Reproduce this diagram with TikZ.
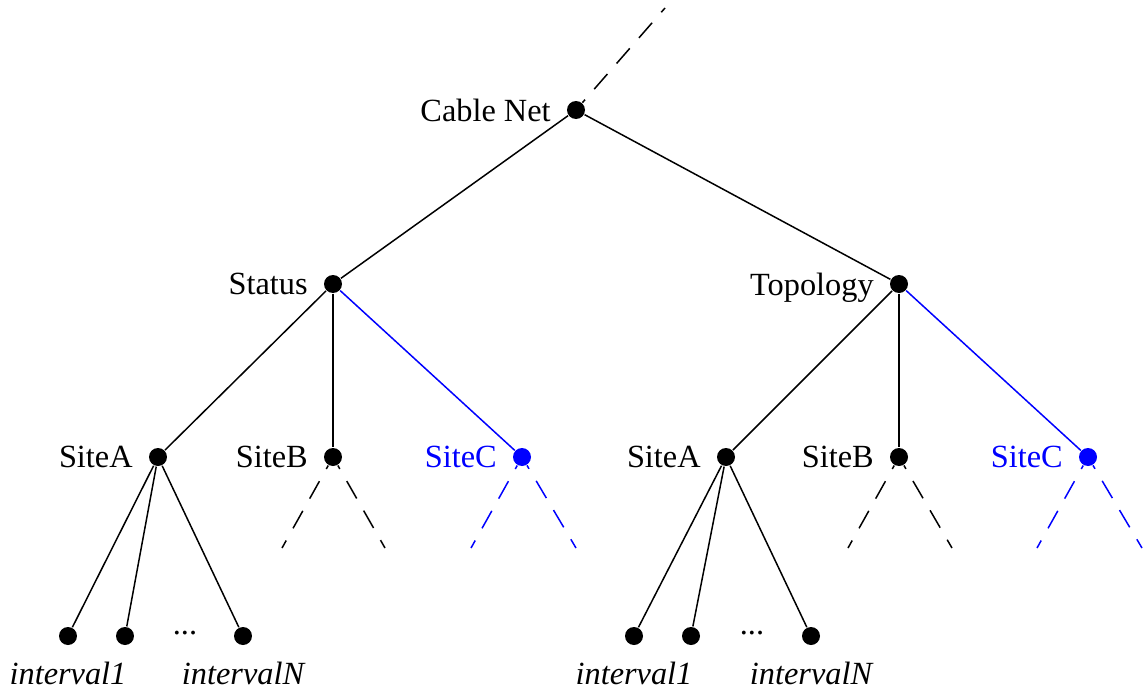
\documentclass[tikz,border=0pt]{standalone}
\usepackage{fontspec}
\setmainfont{Liberation Serif}
\begin{document}
\begin{tikzpicture}[x=0.02cm,y=-0.02cm,line width=0.85pt,
   font=\fontsize{18.4}{22}\selectfont,
   dot/.style={circle,fill,inner sep=0pt,minimum size=0.36cm},
   lbl/.style={label distance=0.18cm,text depth=0pt},
   leaf/.style={label distance=0.2cm,font=\fontsize{18.4}{22}\selectfont\itshape},
   stub/.style={dash pattern=on 0.4cm off 0.28cm,dash phase=0.32cm}]
   \useasboundingbox (0,0) rectangle (1144,690);
   % tree nodes
   \node[dot,label={[lbl]left:Cable Net}] (net) at (576,110) {};
   \node[dot,label={[lbl]left:Status}] (status) at (333,284) {};
   \node[dot,label={[lbl]left:Topology}] (topo) at (899,284) {};
   \node[dot,label={[lbl]left:SiteA}] (sa1) at (158,457) {};
   \node[dot,label={[lbl]left:SiteB}] (sb1) at (333,457) {};
   \node[dot,blue,label={[lbl,blue]left:SiteC}] (sc1) at (522,457) {};
   \node[dot,label={[lbl]left:SiteA}] (sa2) at (726,457) {};
   \node[dot,label={[lbl]left:SiteB}] (sb2) at (899,457) {};
   \node[dot,blue,label={[lbl,blue]left:SiteC}] (sc2) at (1088,457) {};
   % leaves
   \node[dot,label={[leaf]below:interval1}] (i11) at (68,636) {};
   \node[dot] (i12) at (125,636) {};
   \node (gap1) at (185,633) {...};
   \node[dot,label={[leaf]below:intervalN}] (i1n) at (243,636) {};
   \node[dot,label={[leaf]below:interval1}] (i21) at (634,636) {};
   \node[dot] (i22) at (691,636) {};
   \node (gap2) at (752,633) {...};
   \node[dot,label={[leaf]below:intervalN}] (i2n) at (811,636) {};
   % free ends
   \coordinate (up) at (665,8);
   \coordinate (b1l) at (282,548);
   \coordinate (b1r) at (385,548);
   \coordinate (c1l) at (471,548);
   \coordinate (c1r) at (576,548);
   \coordinate (b2l) at (848,548);
   \coordinate (b2r) at (952,548);
   \coordinate (c2l) at (1037,548);
   \coordinate (c2r) at (1142,548);
   % edges
   \draw (net) -- (status);
   \draw (net) -- (topo);
   \draw (status) -- (sa1);
   \draw (status) -- (sb1);
   \draw[blue] (status) -- (sc1);
   \draw (topo) -- (sa2);
   \draw (topo) -- (sb2);
   \draw[blue] (topo) -- (sc2);
   \foreach \l in {i11,i12,i1n} \draw (sa1) -- (\l);
   \foreach \l in {i21,i22,i2n} \draw (sa2) -- (\l);
   \draw[stub] (net) -- (up);
   \foreach \s/\e in {sb1/b1l,sb1/b1r,sb2/b2l,sb2/b2r} \draw[stub] (\s) -- (\e);
   \foreach \s/\e in {sc1/c1l,sc1/c1r,sc2/c2l,sc2/c2r} \draw[stub,blue] (\s) -- (\e);
\end{tikzpicture}
\end{document}
